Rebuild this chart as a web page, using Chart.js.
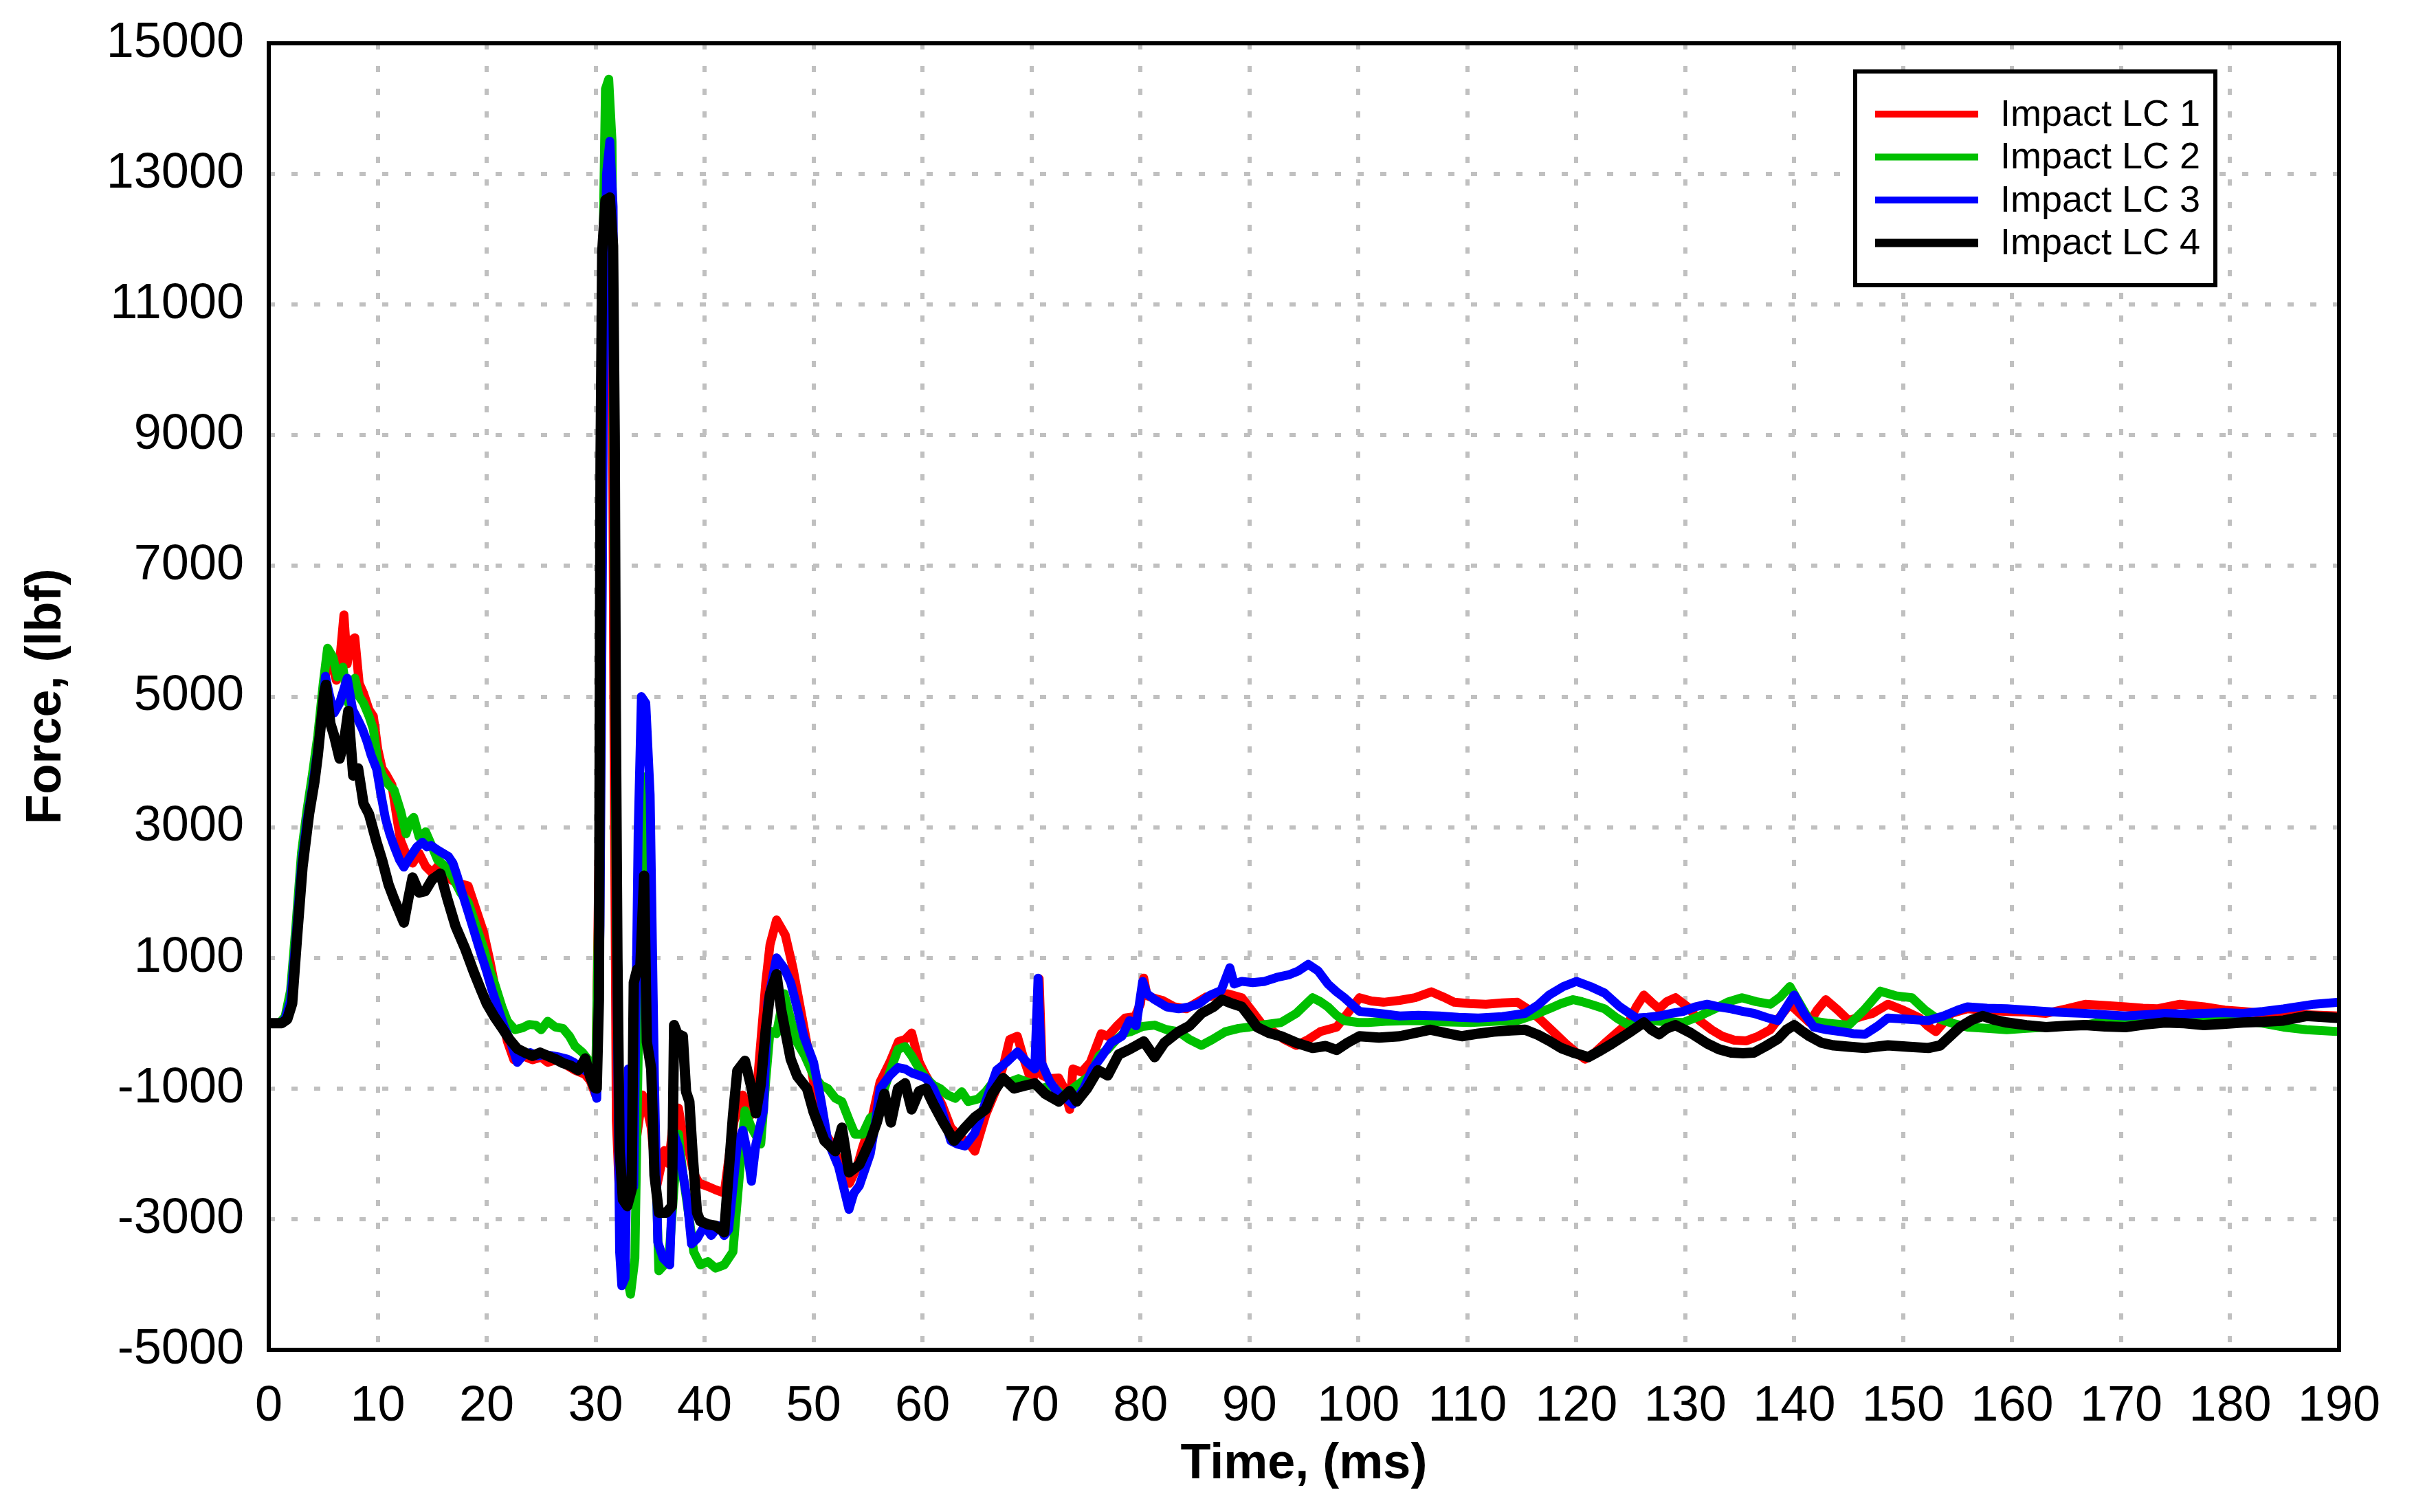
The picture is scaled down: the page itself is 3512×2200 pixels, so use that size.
<!DOCTYPE html>
<html>
<head>
<meta charset="utf-8">
<title>Impact load cells</title>
<script src="https://cdn.jsdelivr.net/npm/chart.js@4.4.0/dist/chart.umd.min.js"></script>
<style>
  html, body { margin: 0; padding: 0; background: #fff; }
  canvas { display: block; }
</style>
</head>
<body>
<canvas id="forceChart" width="3512" height="2200"></canvas>
<script>
// series names and colours
const seriesLabels = ['Impact LC 1', 'Impact LC 2', 'Impact LC 3', 'Impact LC 4'];
const seriesColors = ['#ff0000', '#00c000', '#0000ff', '#000000'];

// axis ranges / tick steps
const timeRange = [0, 190];
const timeStep = 10;
const forceRange = [-5000, 15000];
const forceStep = 2000;

// [time ms, force lbf]
const lc1 = [[0,0],[1.0,0],[1.5,80],[2.0,400],[2.5,1350],[3.0,2450],[3.5,3150],[4.0,3700],[4.5,4250],[5.0,5000],[5.4,5650],[5.8,5500],[6.2,5250],[6.6,5700],[6.9,6250],[7.2,5500],[7.5,5850],[7.9,5900],[8.3,5200],[8.7,5050],[9.2,4800],[9.6,4700],[10.0,4200],[10.4,3900],[10.8,3800],[11.3,3650],[11.8,3100],[12.1,2800],[12.7,2550],[13.2,2450],[13.8,2600],[14.4,2400],[15.0,2300],[15.5,2400],[16.2,2250],[17.2,2150],[18.3,2100],[19.0,1750],[19.7,1400],[20.3,950],[20.8,520],[21.4,100],[21.9,-280],[22.5,-560],[23.3,-500],[24.2,-560],[25.0,-520],[25.6,-600],[26.4,-560],[27.0,-610],[28.1,-720],[29.0,-780],[29.5,-880],[30.0,-1100],[30.3,2500],[30.6,9500],[30.9,12800],[31.2,13300],[31.5,11000],[31.7,4000],[31.9,-1500],[32.2,-2700],[32.6,-2600],[33.0,-2500],[33.4,-2200],[33.8,-1700],[34.3,-1100],[34.7,-1300],[35.1,-1600],[35.6,-2500],[36.3,-1950],[36.7,-2150],[37.2,-1400],[37.6,-1300],[38.0,-1700],[38.5,-1900],[39.0,-2300],[39.5,-2450],[40.3,-2500],[41.0,-2550],[41.8,-2600],[42.2,-2100],[42.7,-1500],[43.5,-1100],[44.3,-1400],[44.8,-1000],[45.6,600],[46.0,1200],[46.6,1580],[47.4,1350],[48.1,850],[48.6,400],[49.4,-320],[50.0,-900],[50.7,-1600],[51.5,-1800],[52.0,-2000],[52.6,-2150],[53.3,-2450],[54.0,-2200],[54.5,-1900],[55.3,-1500],[56.1,-900],[57.0,-600],[57.8,-280],[58.4,-250],[59.0,-150],[59.7,-600],[60.3,-800],[61.0,-1000],[61.8,-1250],[62.6,-1600],[63.5,-1750],[64.3,-1850],[64.8,-1960],[65.8,-1400],[66.8,-1000],[67.5,-600],[68.0,-250],[68.7,-200],[69.3,-550],[70.0,-900],[70.5,-700],[70.7,680],[71.0,-800],[71.6,-850],[72.5,-840],[73.0,-1000],[73.5,-1320],[73.8,-700],[74.6,-750],[75.4,-600],[76.4,-160],[77.0,-200],[77.8,-50],[78.6,80],[79.5,100],[80.0,300],[80.3,690],[80.6,420],[81.5,370],[82.0,350],[83.1,250],[84.2,220],[85.0,300],[86.0,400],[87.1,430],[88.0,450],[89.3,390],[90.4,150],[91.3,-50],[92.2,-130],[93.2,-250],[94.3,-340],[95.4,-250],[96.5,-130],[98.0,-60],[99.0,150],[100.1,390],[101.2,340],[102.3,320],[103.8,350],[105.2,390],[106.7,480],[107.8,400],[108.8,320],[110.2,300],[111.7,290],[113.2,310],[114.6,320],[115.7,200],[116.8,40],[118.0,-150],[119.0,-310],[120.0,-450],[120.8,-550],[121.7,-450],[122.6,-310],[123.7,-150],[124.8,10],[125.5,250],[126.2,430],[126.9,320],[127.6,220],[128.3,330],[129.1,390],[130.2,250],[131.3,40],[132.4,-100],[133.4,-200],[134.5,-260],[135.6,-270],[136.7,-200],[137.8,-100],[138.7,100],[139.6,290],[140.5,150],[141.4,10],[142.1,200],[142.9,360],[144.0,200],[145.0,40],[146.1,100],[147.2,150],[148.6,290],[150.0,200],[151.5,80],[152.3,-50],[153.0,-130],[154.4,150],[155.9,220],[157.5,200],[159.5,180],[161.3,170],[163.1,150],[165.0,220],[166.7,290],[168.5,270],[170.4,250],[172.0,230],[173.3,220],[175.4,290],[177.6,250],[179.5,200],[181.2,180],[183.0,150],[184.9,150],[187.0,130],[190.0,110]];

const lc2 = [[0,0],[1.0,0],[1.5,100],[2.0,500],[2.5,1500],[3.0,2600],[3.5,3250],[4.0,3800],[4.5,4400],[5.0,5200],[5.4,5740],[5.9,5600],[6.3,5300],[6.8,5450],[7.3,4900],[7.9,5280],[8.3,5000],[8.7,4900],[9.2,4700],[9.6,4500],[10.0,4000],[10.4,3800],[11.0,3650],[11.5,3570],[12.1,3250],[12.6,2900],[12.95,3090],[13.3,3150],[13.8,2850],[14.4,2930],[15.0,2700],[15.5,2500],[16.2,2400],[16.9,2230],[17.6,2000],[18.3,1850],[19.0,1500],[19.7,1160],[20.3,800],[20.8,570],[21.4,250],[21.9,30],[22.6,-100],[23.3,-70],[23.9,-20],[24.5,-30],[25.0,-100],[25.6,30],[26.3,-60],[27.0,-80],[27.6,-200],[28.1,-350],[28.8,-450],[29.5,-600],[30.0,-900],[30.3,2000],[30.6,11000],[30.9,14300],[31.2,14450],[31.5,13500],[31.7,8000],[31.9,1500],[32.2,-2000],[32.5,-3500],[32.9,-3900],[33.2,-4150],[33.6,-3600],[34.0,500],[34.4,3000],[34.8,3800],[35.1,2000],[35.4,-1500],[35.8,-3790],[36.3,-3700],[36.7,-3650],[37.2,-2500],[37.6,-1700],[38.0,-2300],[38.6,-3000],[39.0,-3500],[39.6,-3700],[40.3,-3650],[41.0,-3750],[41.8,-3700],[42.6,-3500],[43.0,-2700],[43.7,-1340],[44.3,-1600],[45.15,-1850],[45.6,-900],[46.0,-120],[46.6,-160],[47.3,450],[47.9,60],[48.5,-300],[49.2,-500],[50.0,-800],[50.7,-950],[51.3,-1000],[52.0,-1150],[52.6,-1200],[53.3,-1500],[53.8,-1700],[54.5,-1700],[55.2,-1450],[55.8,-1400],[56.5,-1000],[57.1,-700],[57.75,-400],[58.4,-360],[59.0,-500],[59.7,-700],[60.3,-840],[61.0,-950],[61.6,-1000],[62.3,-1100],[63.0,-1150],[63.6,-1050],[64.2,-1200],[65.1,-1160],[65.8,-1050],[66.4,-920],[67.2,-880],[68.0,-900],[68.8,-850],[69.6,-900],[70.3,-950],[71.0,-1000],[71.8,-950],[72.5,-1050],[73.2,-1150],[73.8,-1000],[74.6,-900],[75.4,-800],[76.2,-500],[77.0,-400],[77.8,-250],[78.5,-150],[79.1,-130],[80.2,-50],[81.3,-30],[82.4,-100],[83.5,-130],[84.5,-250],[85.6,-340],[86.6,-250],[87.8,-130],[89.0,-80],[90.0,-60],[91.5,-20],[92.9,10],[94.3,150],[95.8,390],[96.5,330],[97.2,250],[98.0,120],[98.7,40],[100.0,10],[100.9,10],[102.5,30],[105.2,40],[107.7,20],[110.3,10],[112.5,30],[114.6,40],[116.0,120],[117.5,220],[118.6,300],[119.7,360],[120.5,330],[121.5,280],[122.6,220],[123.7,80],[124.8,-30],[125.8,20],[126.9,40],[128.3,20],[129.8,10],[131.2,100],[132.7,220],[134.0,330],[135.2,390],[136.5,330],[137.8,290],[138.7,400],[139.6,560],[140.5,300],[141.4,40],[143.0,0],[145.0,-30],[146.4,200],[147.9,490],[149.3,420],[150.8,390],[152.0,200],[153.0,80],[154.5,0],[155.9,-60],[157.7,-80],[159.5,-100],[161.3,-80],[163.1,-60],[165.0,-40],[166.7,-30],[168.5,30],[170.4,80],[172.2,60],[174.0,40],[175.8,60],[177.6,80],[179.4,60],[181.2,40],[183.0,0],[184.9,-60],[187.0,-100],[190.0,-130]];

const lc3 = [[0,0],[1.0,0],[1.5,60],[2.0,350],[2.5,1300],[3.0,2400],[3.5,3100],[4.0,3600],[4.5,4200],[5.0,4900],[5.2,5310],[5.6,5000],[6.0,4750],[6.5,4900],[7.2,5280],[7.7,4800],[8.2,4640],[8.6,4500],[9.0,4320],[9.4,4100],[9.9,3890],[10.3,3500],[10.7,3140],[11.1,2900],[11.5,2710],[12.0,2500],[12.4,2390],[12.8,2500],[13.2,2600],[13.6,2700],[14.1,2770],[14.5,2700],[14.9,2720],[15.5,2650],[16.0,2600],[16.5,2550],[16.9,2450],[17.3,2250],[17.7,2020],[18.3,1700],[18.8,1430],[19.4,1100],[20.0,790],[20.5,500],[21.1,200],[21.6,-50],[22.2,-290],[22.8,-600],[23.3,-500],[24.0,-450],[24.6,-500],[25.3,-480],[26.0,-500],[26.7,-520],[27.4,-550],[28.0,-600],[28.7,-700],[29.3,-750],[29.8,-950],[30.1,-1150],[30.4,1500],[30.7,9000],[31.0,13000],[31.3,13500],[31.6,12500],[31.8,6000],[32.0,0],[32.2,-3500],[32.4,-4020],[32.7,-3900],[33.0,-700],[33.2,-900],[33.5,-2500],[33.9,2900],[34.2,5000],[34.6,4900],[35.0,3500],[35.4,-900],[35.7,-3350],[36.2,-3600],[36.8,-3700],[37.2,-1700],[37.6,-1900],[38.0,-2300],[38.4,-2700],[38.8,-3380],[39.3,-3300],[40.0,-3100],[40.6,-3250],[41.3,-3100],[41.8,-3250],[42.2,-3160],[43.0,-1860],[43.5,-1640],[43.9,-1950],[44.3,-2420],[44.7,-1860],[45.4,-1340],[45.8,320],[46.6,1000],[47.3,840],[47.9,620],[48.5,230],[49.1,-200],[50.0,-600],[50.7,-1200],[51.3,-1800],[52.3,-2200],[53.25,-2850],[53.7,-2600],[54.2,-2490],[55.2,-2000],[55.7,-1500],[56.1,-1000],[57.0,-800],[57.75,-680],[58.4,-700],[59.0,-760],[59.7,-800],[60.3,-840],[61.0,-1000],[61.6,-1240],[62.6,-1800],[63.2,-1850],[63.9,-1880],[64.8,-1680],[65.8,-1200],[66.8,-720],[67.7,-600],[68.7,-440],[69.6,-600],[70.3,-700],[70.6,690],[70.9,-600],[71.7,-900],[72.5,-1080],[73.2,-1150],[73.8,-1240],[74.8,-1000],[75.6,-700],[76.4,-520],[77.3,-300],[78.3,-200],[79.0,40],[79.6,-40],[80.2,640],[80.6,450],[81.3,360],[82.4,250],[83.5,220],[84.5,250],[85.4,300],[86.4,430],[87.4,500],[88.2,850],[88.6,600],[89.3,640],[90.3,620],[91.4,640],[92.5,700],[93.6,740],[94.5,800],[95.4,900],[96.3,800],[97.2,600],[98.0,480],[98.7,390],[100.1,180],[101.9,150],[103.8,110],[105.5,120],[107.4,110],[109.2,90],[111.0,80],[113.2,100],[115.3,150],[116.5,280],[117.5,430],[118.8,560],[120.0,640],[121.3,560],[122.6,460],[124.0,250],[125.5,80],[126.5,90],[127.6,110],[128.7,150],[129.8,180],[130.9,250],[132.0,290],[133.1,250],[134.2,220],[135.3,180],[136.3,150],[137.4,90],[138.5,40],[139.3,250],[140.0,430],[140.9,150],[141.8,-60],[143.0,-100],[144.3,-130],[145.4,-160],[146.5,-170],[147.6,-50],[148.6,80],[150.4,60],[152.3,40],[153.7,110],[155.0,200],[155.9,250],[157.7,230],[159.5,220],[161.3,200],[163.1,180],[165.0,160],[166.7,150],[168.5,130],[170.4,110],[172.2,130],[174.0,150],[175.8,140],[177.6,150],[179.4,160],[181.2,150],[183.0,180],[184.9,220],[187.7,290],[190.0,320]];

const lc4 = [[0,0],[1.2,0],[1.7,60],[2.15,300],[2.6,1320],[3.1,2390],[3.7,3200],[4.2,3700],[4.5,4100],[4.8,4600],[5.1,5070],[5.25,5180],[5.65,4590],[6.0,4400],[6.5,4050],[6.9,4300],[7.3,4780],[7.75,3790],[8.2,3900],[8.7,3360],[9.2,3200],[9.9,2770],[10.4,2500],[11.0,2120],[11.5,1900],[12.0,1700],[12.4,1540],[12.8,1900],[13.2,2230],[13.8,2000],[14.35,2020],[15.0,2200],[15.75,2290],[16.4,1900],[17.15,1480],[18.0,1150],[18.8,790],[19.5,500],[20.0,300],[20.7,100],[21.4,-70],[22.1,-250],[22.8,-390],[23.5,-450],[24.2,-500],[24.9,-450],[25.6,-500],[26.3,-550],[27.0,-610],[27.7,-650],[28.4,-720],[29.05,-540],[29.5,-820],[29.9,-990],[30.1,-1000],[30.3,350],[30.45,8600],[30.6,11800],[30.9,12600],[31.3,12640],[31.6,11900],[31.75,9000],[31.85,4800],[32.0,990],[32.2,-1940],[32.5,-2700],[32.9,-2800],[33.3,-2550],[33.5,620],[33.8,820],[34.1,860],[34.45,2260],[34.7,-290],[35.1,-700],[35.4,-2330],[35.8,-2900],[36.5,-2900],[37.0,-2800],[37.2,-30],[37.5,-160],[38.0,-200],[38.3,-1050],[38.6,-1200],[38.9,-2000],[39.3,-2900],[39.6,-3030],[40.3,-3080],[41.0,-3100],[41.8,-3200],[42.2,-2300],[42.6,-1420],[43.0,-730],[43.7,-575],[44.3,-990],[44.7,-1380],[45.15,-940],[45.6,-120],[46.0,450],[46.6,750],[47.0,230],[47.4,-120],[47.9,-550],[48.5,-810],[49.4,-1000],[50.0,-1360],[51.0,-1800],[52.0,-1960],[52.6,-1600],[53.25,-2285],[54.2,-2165],[55.2,-1800],[55.8,-1520],[56.5,-1080],[57.1,-1520],[57.75,-1000],[58.4,-920],[59.0,-1320],[59.7,-1040],[60.3,-1000],[61.0,-1240],[61.9,-1520],[62.9,-1800],[63.9,-1600],[64.8,-1440],[65.8,-1320],[66.4,-1080],[67.4,-840],[68.4,-1000],[69.3,-960],[70.3,-920],[71.25,-1080],[72.5,-1200],[73.5,-1040],[74.15,-1200],[75.1,-1000],[76.1,-720],[77.0,-800],[78.0,-480],[79.0,-400],[80.3,-280],[81.3,-520],[82.2,-300],[83.5,-130],[84.5,-40],[85.6,150],[86.7,250],[87.5,360],[88.4,300],[89.3,250],[90.0,100],[90.7,-60],[91.8,-150],[92.9,-200],[94.3,-300],[95.8,-380],[97.0,-350],[98.0,-410],[99.0,-300],[100.1,-200],[101.9,-220],[103.8,-200],[105.2,-150],[106.6,-100],[108.0,-150],[109.5,-200],[111.0,-160],[112.4,-130],[114.0,-110],[115.3,-100],[116.5,-180],[117.5,-270],[118.6,-380],[119.7,-450],[121.1,-520],[122.2,-420],[123.3,-310],[124.8,-150],[126.2,10],[126.9,-100],[127.6,-170],[128.3,-80],[129.1,-30],[130.5,-150],[132.0,-310],[133.1,-400],[134.2,-450],[135.3,-460],[136.3,-450],[137.4,-350],[138.5,-240],[139.3,-100],[140.0,-30],[140.7,-120],[141.4,-200],[142.5,-300],[143.6,-340],[145.0,-360],[146.5,-380],[148.6,-340],[150.4,-360],[152.3,-380],[153.4,-340],[154.3,-200],[155.2,-60],[156.3,50],[157.3,110],[158.4,50],[159.5,10],[161.3,-30],[163.1,-60],[165.0,-40],[166.7,-30],[168.5,-50],[170.4,-60],[172.2,-20],[174.0,10],[175.8,0],[177.6,-30],[179.4,-10],[181.2,10],[183.0,20],[184.9,40],[187.0,110],[190.0,80]];

const seriesData = [lc1, lc2, lc3, lc4];
const lineWidths = [13, 13, 13, 15];     // plotted traces (noisy, so they read thick)
const legendWidths = [10, 10, 10, 12];   // legend swatches

const FONT = '"Liberation Sans", Arial, Helvetica, sans-serif';

// frame round the plot plus the boxed legend in the top right corner
const frameAndLegend = {
    id: 'frameAndLegend',
    afterDatasetsDraw(chart) {
        const { ctx, chartArea: a } = chart;
        ctx.save();
        ctx.setLineDash([]);
        ctx.strokeStyle = '#000';
        ctx.lineWidth = 6;
        ctx.strokeRect(a.left, a.top, a.right - a.left, a.bottom - a.top);

        const bx = 2699, by = 104, bw = 524, bh = 311;
        ctx.fillStyle = '#fff';
        ctx.fillRect(bx, by, bw, bh);
        ctx.strokeRect(bx, by, bw, bh);

        ctx.font = '54px ' + FONT;
        ctx.textBaseline = 'middle';
        ctx.textAlign = 'left';
        chart.data.datasets.forEach((ds, i) => {
            const y = 166 + i * 62.5;
            ctx.strokeStyle = ds.borderColor;
            ctx.lineWidth = legendWidths[i];
            ctx.lineCap = 'butt';
            ctx.beginPath();
            ctx.moveTo(2728, y);
            ctx.lineTo(2878, y);
            ctx.stroke();
            ctx.fillStyle = '#000';
            ctx.fillText(ds.label, 2910, y + 2);
        });
        ctx.restore();
    }
};

const datasets = seriesData.map((pts, i) => ({
    label: seriesLabels[i],
    data: pts.map(p => ({ x: p[0], y: p[1] })),
    borderColor: seriesColors[i],
    backgroundColor: seriesColors[i],
    borderWidth: lineWidths[i],
    borderJoinStyle: 'round',
    borderCapStyle: 'round',
    pointRadius: 0,
    tension: 0,
    fill: false,
    order: seriesData.length - 1 - i   // LC 4 ends up on top
}));

const gridStyle = {
    color: '#c0c0c0',
    lineWidth: 6,
    drawTicks: false
};

new Chart(document.getElementById('forceChart'), {
    type: 'line',
    data: { datasets },
    options: {
        responsive: false,
        devicePixelRatio: 1,
        animation: false,
        layout: { padding: { top: 63, right: 109, left: 0, bottom: 0 } },
        plugins: {
            legend: { display: false },
            tooltip: { enabled: false }
        },
        scales: {
            x: {
                type: 'linear',
                min: timeRange[0],
                max: timeRange[1],
                grid: gridStyle,
                border: { display: false, dash: [9, 24] },
                ticks: {
                    stepSize: timeStep,
                    color: '#000',
                    padding: 40,
                    maxRotation: 0,
                    autoSkip: false,
                    font: { family: FONT, size: 72 },
                    callback: v => String(v)
                },
                title: {
                    display: true,
                    text: 'Time, (ms)',
                    color: '#000',
                    padding: { top: 0, bottom: 26 },
                    font: { family: FONT, size: 72, weight: 'bold' }
                },
                afterFit(scale) { scale.height = 236; }
            },
            y: {
                type: 'linear',
                min: forceRange[0],
                max: forceRange[1],
                grid: gridStyle,
                border: { display: false, dash: [9, 24] },
                ticks: {
                    stepSize: forceStep,
                    color: '#000',
                    padding: 36,
                    autoSkip: false,
                    font: { family: FONT, size: 72 },
                    callback: v => String(v)
                },
                title: {
                    display: true,
                    text: 'Force, (lbf)',
                    color: '#000',
                    padding: { top: 25, bottom: 0 },
                    font: { family: FONT, size: 72, weight: 'bold' }
                },
                afterFit(scale) {
                    scale.width = 391;
                    // keep the tick-label overhang from pushing the plot down
                    scale.paddingTop = 20;
                    scale.paddingBottom = 20;
                }
            }
        }
    },
    plugins: [frameAndLegend]
});
</script>
</body>
</html>
